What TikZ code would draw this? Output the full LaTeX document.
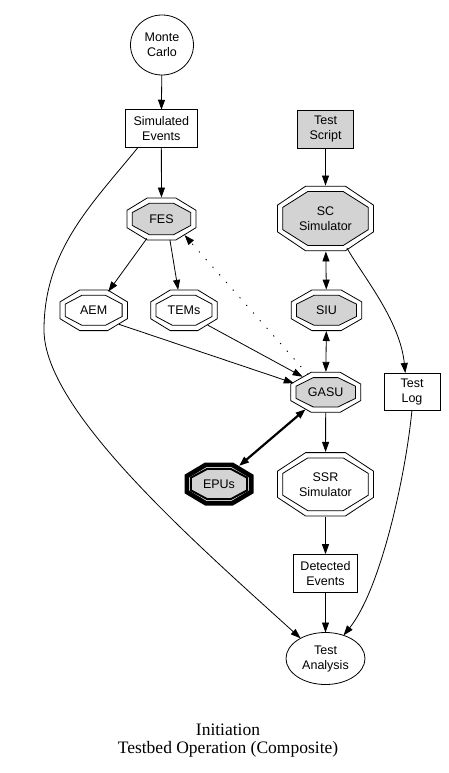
\documentclass[tikz,border=0pt]{standalone}
\usepackage{fontspec}
\setmainfont{Liberation Sans}
\newfontfamily\capfont{Liberation Serif}
\usetikzlibrary{arrows.meta,shapes.geometric}
\definecolor{gvgray}{RGB}{211,211,211}
\tikzset{
  txt/.style={font=\fontsize{12.5}{15}\selectfont, align=center, inner sep=0pt, outer sep=0pt},
  boxnode/.style={txt, draw, rectangle, line width=0.8pt},
  ellnode/.style={txt, draw, ellipse, line width=0.8pt},
  octn/.style={txt, ellipse},
  gvtip/.tip={Triangle[length=10pt,width=7pt]},
  edge/.style={line width=0.8pt, -gvtip},
  bothedge/.style={line width=0.8pt, gvtip-gvtip},
  boldedge/.style={line width=2.2pt, {Triangle[length=10pt,width=7pt]}-{Triangle[length=10pt,width=7pt]}},
  dotedge/.style={line width=0.9pt, dash pattern=on 1.2pt off 9pt, -gvtip},
  capt/.style={font=\capfont\fontsize{17.5}{19}\selectfont, inner sep=0pt, anchor=base}
}
% octagon outline centred at the current origin, half width #2, half height #3
\newcommand\octo[3]{%
  \draw[#1] ({-(#2)},{0.4142*(#3)}) -- ({-0.4142*(#2)},{#3}) -- ({0.4142*(#2)},{#3})
    -- ({#2},{0.4142*(#3)}) -- ({#2},{-0.4142*(#3)}) -- ({0.4142*(#2)},{-(#3)})
    -- ({-0.4142*(#2)},{-(#3)}) -- ({-(#2)},{-0.4142*(#3)}) -- cycle;}
% double octagon node: name, x, y, a, b, fill, text
\newcommand\octnode[7]{%
  \begin{scope}[shift={(#2,#3)}]
    \octo{line width=0.8pt}{#4}{#5}
    \octo{line width=0.8pt, fill=#6}{#4-5.3}{#5-5.3}
  \end{scope}
  \node[octn, minimum width={2.04*#4pt}, minimum height={2.04*#5pt}] (#1) at (#2,#3) {#7};}
\begin{document}
\begin{tikzpicture}[x=1pt, y=-1pt]
  \useasboundingbox (0,0) rectangle (448,773);
  % nodes
  \node[ellnode, minimum width=63pt, minimum height=60pt] (mc) at (162,45) {Monte\\Carlo};
  \node[boxnode, minimum width=72.5pt, minimum height=37.5pt] (se) at (161.3,128.5) {Simulated\\Events};
  \node[boxnode, fill=gvgray, minimum width=56pt, minimum height=38pt] (ts) at (325.5,129) {Test\\Script};
  \octnode{fes}{161.5}{219}{34.5}{21}{gvgray}{FES}
  \octnode{sc}{325.5}{218.5}{48}{32.3}{gvgray}{SC\\Simulator}
  \octnode{aem}{93.7}{310.3}{33.7}{20.3}{white}{AEM}
  \octnode{tems}{184}{310.3}{33.3}{20.3}{white}{TEMs}
  \octnode{siu}{326.5}{310.3}{35.3}{20.3}{gvgray}{SIU}
  \octnode{gasu}{325.7}{392.3}{35}{20}{gvgray}{GASU}
  \node[boxnode, minimum width=56pt, minimum height=37pt] (tl) at (412,391.5) {Test\\Log};
  \begin{scope}[shift={(219,484)}]
    \octo{line width=4.7pt}{34.5-2.35}{21.5-2.35}
    \octo{line width=2pt, fill=gvgray}{34.5-6.3}{21.5-6.3}
  \end{scope}
  \node[octn, minimum width=70pt, minimum height=44pt] (epus) at (219,484) {EPUs};
  \octnode{ssr}{325.5}{484.3}{48}{31.7}{white}{SSR\\Simulator}
  \node[boxnode, minimum width=64pt, minimum height=38pt] (de) at (325.5,573.2) {Detected\\Events};
  \node[ellnode, minimum width=79pt, minimum height=52pt] (ta) at (325.5,658.5) {Test\\Analysis};
  % caption
  \node[capt] (cap1) at (228,735) {Initiation};
  \node[capt] (cap2) at (228,753.5) {Testbed Operation (Composite)};
  % edges
  \draw[edge] (mc) -- (se);
  \draw[edge] (se) -- (fes);
  \draw[edge] (ts) -- (sc);
  \draw[edge] (fes.-127) -- (aem.52);
  \draw[edge] (fes.-68) -- (tems.106);
  \draw[dotedge] (gasu.135) -- (fes.-35);
  \draw[bothedge] (sc) -- (siu);
  \draw[bothedge] (siu) -- (gasu);
  \draw[edge] (aem.-29) -- (gasu.164);
  \draw[edge] (tems.-32) -- (gasu.146);
  \draw[boldedge] (gasu.220) -- (epus.42);
  \draw[edge] (gasu) -- (ssr);
  \draw[edge] (ssr) -- (de);
  \draw[edge] (de) -- (ta);
  \draw[edge] (sc.-54) .. controls (362,275) and (400,320) .. (tl.110);
  \draw[edge] (tl.south) .. controls (405,480) and (380,590) .. (ta.52);
  \draw[edge] (se.219) .. controls (92,204) and (44,250) .. (44,330)
                      .. controls (44,410) and (191,539) .. (ta.141);
\end{tikzpicture}
\end{document}
